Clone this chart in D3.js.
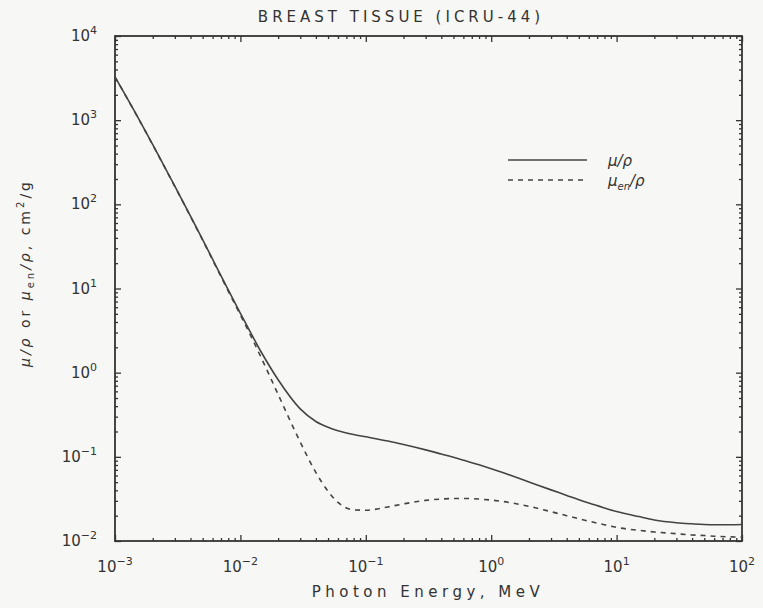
<!DOCTYPE html>
<html>
<head>
<meta charset="utf-8">
<script src="https://cdn.jsdelivr.net/npm/d3@7"></script>
<style>
  body { margin: 0; background: #f7f7f5; }
  svg { font-family: "DejaVu Sans", sans-serif; }
</style>
</head>
<body>
<div class="chart"></div>
<script>
// data: photon energy (MeV) and coefficients (cm2/g)
const energy = [0.001, 0.0015, 0.002, 0.003, 0.004, 0.005, 0.006, 0.008, 0.01, 0.015, 0.02, 0.03,
  0.04, 0.05, 0.06, 0.08, 0.1, 0.15, 0.2, 0.3, 0.4, 0.5, 0.6, 0.8, 1, 1.25, 1.5, 2, 3, 4, 5, 6,
  8, 10, 15, 20, 30, 40, 50, 60, 80, 100]
const muRho = [3268, 1125, 512.7, 164.6, 72.5, 38.1, 22.3, 9.62, 5.08, 1.654, 0.823, 0.371,
  0.263, 0.224, 0.204, 0.184, 0.173, 0.154, 0.140, 0.121, 0.108, 0.0988, 0.0913, 0.0803, 0.0722,
  0.0646, 0.0588, 0.0504, 0.0405, 0.0348, 0.0309, 0.0282, 0.0247, 0.0224, 0.0195, 0.0178,
  0.0165, 0.0160, 0.0157, 0.0156, 0.0156, 0.0157]
const muEnRho = [3254, 1118, 508.3, 162.8, 71.6, 37.5, 21.9, 9.30, 4.85, 1.40, 0.55, 0.150,
  0.0650, 0.0390, 0.0288, 0.0234, 0.0232, 0.0254, 0.0276, 0.0304, 0.0315, 0.0320, 0.0320,
  0.0315, 0.0306, 0.0294, 0.0281, 0.0258, 0.0223, 0.0200, 0.0184, 0.0172, 0.0156, 0.0145,
  0.0134, 0.0128, 0.0122, 0.0118, 0.0116, 0.0114, 0.0112, 0.0111]
const xTickExp = [-3, -2, -1, 0, 1, 2]
const yTickExp = [-2, -1, 0, 1, 2, 3, 4]
const seriesNames = ['μ/ρ', 'μen/ρ']

const svg_width = 763
const svg_height = 608
const margin = { top: 36, bottom: 67, right: 21, left: 115 }
const width = svg_width - margin.left - margin.right
const height = svg_height - margin.top - margin.bottom
const ink = '#333'

const svg = d3.select('.chart').append('svg')
  .attr('width', svg_width).attr('height', svg_height)
const g = svg.append('g').attr('transform', `translate(${margin.left},${margin.top})`)

const xScale = d3.scaleLog().domain([1e-3, 1e2]).range([0, width])
const yScale = d3.scaleLog().domain([1e-2, 1e4]).range([height, 0])

// minor tick positions
const minors = (lo, hi) => {
  const out = []
  for (let e = lo; e < hi; e++) for (let m = 2; m <= 9; m++) out.push(m * Math.pow(10, e))
  return out
}
const xMajor = xTickExp.map(e => Math.pow(10, e))
const yMajor = yTickExp.map(e => Math.pow(10, e))

// ticks point inward on all four sides
function drawAxis(axisFn, scale, majors, minorVals, transform) {
  const a1 = g.append('g').attr('transform', transform)
    .call(axisFn(scale).tickValues(minorVals).tickSize(-3).tickFormat(''))
  const a2 = g.append('g').attr('transform', transform)
    .call(axisFn(scale).tickValues(majors).tickSize(-6).tickFormat(''))
  ;[a1, a2].forEach(a => {
    a.selectAll('.domain').remove()
    a.selectAll('line').attr('stroke', ink).attr('stroke-width', 1.3)
  })
}
drawAxis(d3.axisBottom, xScale, xMajor, minors(-3, 2), `translate(0,${height})`)
drawAxis(d3.axisTop, xScale, xMajor, minors(-3, 2), 'translate(0,0)')
drawAxis(d3.axisLeft, yScale, yMajor, minors(-2, 4), 'translate(0,0)')
drawAxis(d3.axisRight, yScale, yMajor, minors(-2, 4), `translate(${width},0)`)

// frame
g.append('rect').attr('width', width).attr('height', height)
  .attr('fill', 'none').attr('stroke', ink).attr('stroke-width', 1.8)

// tick labels
const xl = g.append('g').selectAll('text').data(xTickExp).join('text')
  .attr('x', d => xScale(Math.pow(10, d)))
  .attr('y', height + 31)
  .attr('text-anchor', 'middle')
  .attr('font-size', 15).attr('fill', ink)
xl.append('tspan').text('10')
xl.append('tspan').attr('dy', -7).attr('font-size', 11).text(d => d < 0 ? '−' + (-d) : d)

const yl = g.append('g').selectAll('text').data(yTickExp).join('text')
  .attr('x', -18)
  .attr('y', d => yScale(Math.pow(10, d)) + 5)
  .attr('text-anchor', 'end')
  .attr('font-size', 15).attr('fill', ink)
yl.append('tspan').text('10')
yl.append('tspan').attr('dy', -7).attr('font-size', 11).text(d => d < 0 ? '−' + (-d) : d)

// lines
const lineGen = vals => d3.line()
  .x((d, i) => xScale(energy[i]))
  .y(d => yScale(d))
  .curve(d3.curveMonotoneX)(vals)

g.append('path').attr('d', lineGen(muRho))
  .attr('fill', 'none').attr('stroke', '#444').attr('stroke-width', 1.6)
g.append('path').attr('d', lineGen(muEnRho))
  .attr('fill', 'none').attr('stroke', '#444').attr('stroke-width', 1.6)
  .attr('stroke-dasharray', '5,5')

// legend
const legend = g.append('g').attr('transform', `translate(${508 - margin.left},${160 - margin.top})`)
legend.append('line').attr('x1', 0).attr('x2', 79).attr('y1', 0).attr('y2', 0)
  .attr('stroke', '#444').attr('stroke-width', 1.6)
legend.append('line').attr('x1', 0).attr('x2', 79).attr('y1', 20).attr('y2', 20)
  .attr('stroke', '#444').attr('stroke-width', 1.6).attr('stroke-dasharray', '5,5')
legend.append('text').attr('x', 100).attr('y', 6)
  .attr('font-size', 15).attr('font-style', 'italic').attr('fill', ink).text(seriesNames[0])
const l2 = legend.append('text').attr('x', 100).attr('y', 26)
  .attr('font-size', 15).attr('font-style', 'italic').attr('fill', ink)
l2.append('tspan').text('μ')
l2.append('tspan').attr('dy', 4).attr('font-size', 10).text('en')
l2.append('tspan').attr('dy', -4).text('/ρ')

// title
svg.append('text').attr('x', 401).attr('y', 22)
  .attr('text-anchor', 'middle').attr('font-size', 15).attr('letter-spacing', 4)
  .attr('fill', ink).text('BREAST TISSUE (ICRU-44)')

// x label
svg.append('text').attr('x', 428).attr('y', 597)
  .attr('text-anchor', 'middle').attr('font-size', 15).attr('letter-spacing', 4.5)
  .attr('fill', ink).text('Photon Energy, MeV')

// y label
const yLab = svg.append('text')
  .attr('transform', 'translate(30,273) rotate(-90)')
  .attr('text-anchor', 'middle').attr('font-size', 14).attr('letter-spacing', 3)
  .attr('fill', ink)
yLab.append('tspan').attr('font-style', 'italic').text('μ/ρ')
yLab.append('tspan').text(' or ')
yLab.append('tspan').attr('font-style', 'italic').text('μ')
yLab.append('tspan').attr('dy', 4).attr('font-size', 10).text('en')
yLab.append('tspan').attr('dy', -4).attr('font-style', 'italic').text('/ρ')
yLab.append('tspan').text(', cm')
yLab.append('tspan').attr('dy', -6).attr('font-size', 10).text('2')
yLab.append('tspan').attr('dy', 6).text('/g')
</script>
</body>
</html>
